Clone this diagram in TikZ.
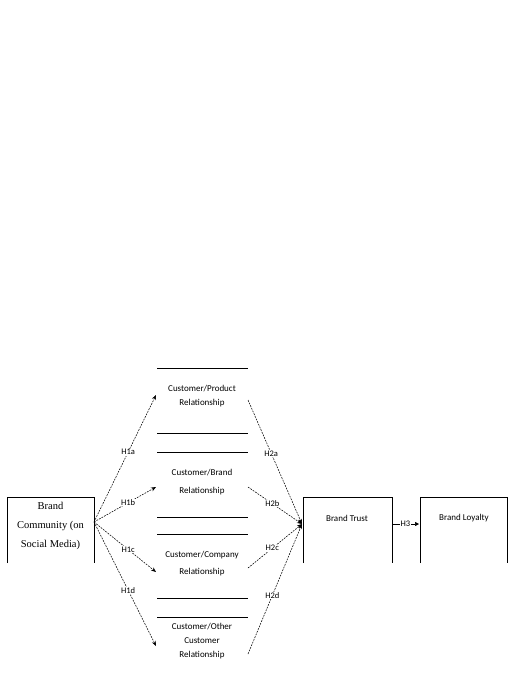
\documentclass[tikz,border=0pt]{standalone}
\usepackage{fontspec}
\setmainfont{Liberation Serif}
\newfontfamily\calfont{Carlito}
\usetikzlibrary{arrows.meta}
\begin{document}
\begin{tikzpicture}[x=1pt,y=-1pt,
  lbl/.style={font=\calfont\fontsize{9}{10}\selectfont, inner sep=0.5pt},
  rtxt/.style={font=\calfont\fontsize{9}{14}\selectfont, align=center, inner sep=0pt},
  hyp/.style={font=\calfont\fontsize{8.5}{9}\selectfont, fill=white, inner sep=0.6pt},
  dline/.style={line width=0.55pt, dash pattern=on 1.8pt off 1.1pt},
  arr/.style={dline, -{Stealth[length=5pt,width=4pt]}},
  box/.style={line width=0.9pt},
  sep/.style={line width=0.9pt}]
\useasboundingbox (0,0) rectangle (518,699);
% left box
\draw[box] (7,563) -- (7,497) -- (94,497) -- (94,563);
\node[font=\fontsize{10.5}{19}\selectfont, align=center] (bc) at (50.5,526) {Brand\\Community (on\\Social Media)};
\coordinate (src) at (94,522);
% middle separators
\foreach \y in {368,433,452,517,534,598,617}
  \draw[sep] (157,\y) -- (248,\y);
\node[rtxt] (p1) at (202,396) {Customer/Product\\Relationship};
\node[rtxt] (p2) at (202,482.5) {Customer/Brand\\[4pt]Relationship};
\node[rtxt] (p3) at (202,564) {Customer/Company\\[3pt]Relationship};
\node[rtxt] (p4) at (202,641.5) {Customer/Other\\Customer\\Relationship};
% targets on the left of relationships
\coordinate (t1) at (156,395);
\coordinate (t2) at (156,487);
\coordinate (t3) at (156,572);
\coordinate (t4) at (156,646);
% starts on the right of relationships
\coordinate (s1) at (248,400);
\coordinate (s2) at (248,487);
\coordinate (s3) at (248,568);
\coordinate (s4) at (248,654);
% Brand trust
\draw[box] (303,563) -- (303,497) -- (392,497) -- (392,563);
\node[lbl] (bt) at (347,518) {Brand Trust};
\coordinate (btin) at (302,524);
\coordinate (btout) at (392,524);
% Brand loyalty
\draw[box] (420,563) -- (420,497) -- (507,497) -- (507,563);
\node[lbl] (bl) at (464,518) {Brand Loyalty};
\coordinate (blin) at (419,524);
% arrows H1
\draw[arr] (src) -- node[hyp, pos=0.55] {H1a} (t1);
\draw[arr] (src) -- node[hyp, pos=0.55] {H1b} (t2);
\draw[arr] (src) -- node[hyp, pos=0.55] {H1c} (t3);
\draw[arr] (src) -- node[hyp, pos=0.55] {H1d} (t4);
% arrows H2
\draw[arr] (s1) -- node[hyp, pos=0.43] {H2a} (btin);
\draw[arr] (s2) -- node[hyp, pos=0.45] {H2b} (btin);
\draw[arr] (s3) -- node[hyp, pos=0.45] {H2c} (btin);
\draw[arr] (s4) -- node[hyp, pos=0.45] {H2d} (btin);
% H3
\draw[line width=0.5pt, -{Triangle[length=4pt,width=4pt]}] (btout) -- node[hyp, pos=0.5] {H3} (blin);
\end{tikzpicture}
\end{document}
